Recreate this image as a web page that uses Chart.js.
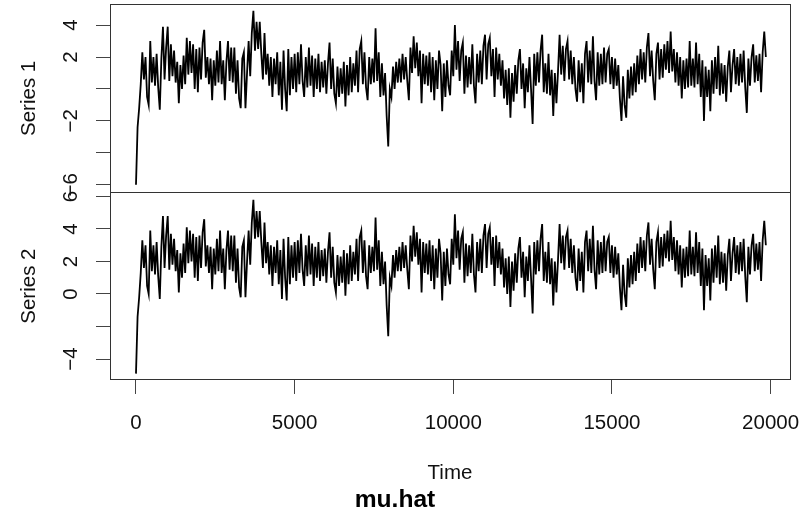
<!DOCTYPE html>
<html>
<head>
<meta charset="utf-8">
<script src="https://cdn.jsdelivr.net/npm/chart.js@4.4.1/dist/chart.umd.min.js"></script>
<style>
  html, body { margin: 0; padding: 0; background: #fff; }
  canvas { display: block; }
</style>
</head>
<body>
<canvas id="chart1" width="802" height="524"></canvas>
<script>
// time axis: one value every 50 steps, starting at 0
const tStart = 0;
const tStep = 50;

const series1 = [
  -6.0, -2.4, -1.2, 0.3, 2.3, 0.6, 2.0, -0.5, -1.0, 3.0,
  0.4, 2.0, 0.2, 2.2, 0.1, -1.3, 1.9, 3.9, 0.6, 2.6,
  3.9, 0.5, 2.8, 0.8, 2.4, 0.4, 1.7, -0.9, 1.5, 0.0,
  2.1, 0.3, 3.2, 0.9, 3.0, 1.0, 2.8, 0.0, 2.5, -0.2,
  2.6, 0.6, 2.9, 3.7, 0.7, 2.0, 0.3, 1.9, -0.7, 1.8,
  0.2, 2.4, 0.4, 3.0, 0.3, 1.8, -0.7, 1.7, 3.0, 0.5,
  2.6, 0.4, 2.6, -0.3, 1.8, -0.6, -1.2, 1.9, 2.3, -1.2,
  1.0, 3.0, 0.8, 3.5, 4.9, 2.4, 4.2, 2.5, 4.2, 2.2,
  0.6, 3.5, 0.9, 2.2, 0.2, 2.0, -0.5, 1.9, 0.3, 2.3,
  -0.4, 1.7, -1.3, 2.4, 0.0, -1.4, 2.5, -0.4, 2.0, 0.0,
  2.2, -0.2, 2.3, 0.3, 2.8, 0.5, -0.5, 2.0, 0.1, 2.6,
  0.2, 2.1, -0.5, 1.9, 0.0, 2.2, -0.2, 1.7, 0.1, 1.8,
  -0.3, 1.6, 2.9, 0.0, 1.9, -0.3, -0.9, 1.4, -0.5, 1.3,
  -0.3, 1.7, -1.1, 1.5, -0.4, 2.0, -0.2, 1.6, 0.2, 2.4,
  -0.2, 2.5, 3.0, 0.3, 2.3, 0.1, -0.7, 2.0, 0.3, 1.9,
  0.4, 3.8, 0.5, 2.3, -0.5, 1.6, -0.4, 1.0, -1.7, -3.6,
  0.0, -0.5, 1.4, 0.0, 1.7, 0.4, 1.9, 0.4, 2.2, 0.6,
  2.0, 0.5, -0.7, 2.6, 1.0, 3.3, 1.3, 2.9, 0.8, 2.4,
  -0.9, 2.2, 0.3, 2.1, 0.2, 2.3, -0.2, 2.0, -0.7, 1.8,
  0.0, 2.4, 1.5, -1.4, 1.6, -0.5, 1.8, 0.2, -0.4, 2.4,
  0.8, 4.0, 1.2, 3.0, 0.5, 2.4, 2.9, -0.3, 2.1, 0.1,
  2.0, 0.3, 2.8, 0.2, -0.9, 2.2, 0.4, 2.4, 0.3, 2.7,
  3.4, 0.6, 2.8, 3.2, 0.8, 2.5, -0.5, 2.6, 0.6, 2.2,
  0.2, 1.8, -0.6, 1.2, -1.0, 1.3, -1.8, 1.0, -0.8, 1.5,
  -0.3, 1.8, 2.5, 0.0, 1.6, -1.2, 1.3, -0.2, 2.0, 0.0,
  -2.2, 2.2, 0.2, 2.3, 0.4, 2.4, 3.4, -0.2, 1.6, -0.3,
  2.2, -0.4, 1.2, -1.7, 1.0, -0.9, 1.1, 3.4, 0.9, 2.7,
  0.5, 2.5, 3.0, 0.6, 2.4, 0.3, 2.0, 0.0, -0.8, 1.8,
  -0.2, 1.6, -0.9, 2.2, 3.0, 0.4, 2.4, 0.3, 3.3, 0.5,
  -0.7, 2.3, 0.2, 2.2, 0.3, 2.6, 0.4, 2.2, 2.5, 0.3,
  2.0, 0.0, 1.9, 0.2, 1.5, -0.6, -2.0, 0.8, -1.0, -1.8,
  1.2, -0.6, 1.4, -0.4, 1.6, -0.2, 2.1, 0.3, 2.5, 0.6,
  2.3, 0.4, 2.6, 3.5, 0.8, 2.4, 0.5, -0.7, 2.2, 2.9,
  0.6, 2.5, 0.7, 2.8, 1.2, 3.0, 1.0, 3.6, 1.1, 2.5,
  0.4, 2.3, 0.2, 2.0, -0.6, 1.8, 0.0, 1.9, 0.1, 3.0,
  0.2, 1.9, 0.1, 2.9, 0.3, 2.2, -0.5, 1.8, -2.0, 1.4,
  -0.5, 1.2, -1.4, 1.8, -0.3, 2.0, 0.0, 2.7, -0.4, 1.6,
  -0.3, 1.5, -0.8, 1.4, 2.4, -0.2, 1.5, 2.5, 0.3, 2.0,
  0.2, 2.2, 0.4, 2.4, 0.1, -1.5, 1.9, 0.2, 2.0, 2.8,
  0.4, 2.1, 0.5, 2.2, -0.2, 2.3, 3.6, 2.0,
];

const series2 = [
  -4.9, -1.4, -0.2, 1.3, 3.3, 1.6, 3.0, 0.5, 0.0, 3.9,
  1.4, 3.0, 1.2, 3.2, 1.1, -0.3, 2.9, 4.8, 1.6, 3.6,
  4.8, 1.5, 3.7, 1.8, 3.4, 1.4, 2.7, 0.1, 2.5, 1.0,
  3.1, 1.3, 4.1, 1.9, 3.9, 2.0, 3.7, 1.0, 3.5, 0.8,
  3.6, 1.6, 3.8, 4.6, 1.7, 3.0, 1.3, 2.9, 0.3, 2.8,
  1.2, 3.4, 1.4, 3.9, 1.3, 2.8, 0.3, 2.7, 3.9, 1.5,
  3.6, 1.4, 3.6, 0.7, 2.8, 0.4, -0.2, 2.9, 3.3, -0.2,
  2.0, 3.9, 1.8, 4.4, 5.8, 3.4, 5.1, 3.5, 5.1, 3.2,
  1.6, 4.4, 1.9, 3.2, 1.2, 3.0, 0.5, 2.9, 1.3, 3.3,
  0.6, 2.7, -0.3, 3.4, 1.0, -0.4, 3.5, 0.6, 3.0, 1.0,
  3.2, 0.8, 3.3, 1.3, 3.7, 1.5, 0.5, 3.0, 1.1, 3.6,
  1.2, 3.1, 0.5, 2.9, 1.0, 3.2, 0.8, 2.7, 1.1, 2.8,
  0.7, 2.6, 3.8, 1.0, 2.9, 0.7, 0.1, 2.4, 0.5, 2.3,
  0.7, 2.7, -0.1, 2.5, 0.6, 3.0, 0.8, 2.6, 1.2, 3.4,
  0.8, 3.5, 3.9, 1.3, 3.3, 1.1, 0.3, 3.0, 1.3, 2.9,
  1.4, 4.7, 1.5, 3.3, 0.5, 2.6, 0.6, 2.0, -0.7, -2.6,
  1.0, 0.5, 2.4, 1.0, 2.7, 1.4, 2.9, 1.4, 3.2, 1.6,
  3.0, 1.5, 0.3, 3.6, 2.0, 4.2, 2.3, 3.8, 1.8, 3.4,
  0.1, 3.2, 1.3, 3.1, 1.2, 3.3, 0.8, 3.0, 0.3, 2.8,
  1.0, 3.4, 2.5, -0.4, 2.6, 0.5, 2.8, 1.2, 0.6, 3.4,
  1.8, 4.9, 2.2, 3.9, 1.5, 3.4, 3.8, 0.7, 3.1, 1.1,
  3.0, 1.3, 3.7, 1.2, 0.1, 3.2, 1.4, 3.4, 1.3, 3.6,
  4.3, 1.6, 3.7, 4.1, 1.8, 3.5, 0.5, 3.6, 1.6, 3.2,
  1.2, 2.8, 0.4, 2.2, 0.0, 2.3, -0.8, 2.0, 0.2, 2.5,
  0.7, 2.8, 3.5, 1.0, 2.6, -0.2, 2.3, 0.8, 3.0, 1.0,
  -1.2, 3.2, 1.2, 3.3, 1.4, 3.4, 4.3, 0.8, 2.6, 0.7,
  3.2, 0.6, 2.2, -0.7, 2.0, 0.1, 2.1, 4.3, 1.9, 3.6,
  1.5, 3.5, 3.9, 1.6, 3.4, 1.3, 3.0, 1.0, 0.2, 2.8,
  0.8, 2.6, 0.1, 3.2, 3.9, 1.4, 3.4, 1.3, 4.2, 1.5,
  0.3, 3.3, 1.2, 3.2, 1.3, 3.6, 1.4, 3.2, 3.5, 1.3,
  3.0, 1.0, 2.9, 1.2, 2.5, 0.4, -1.0, 1.8, 0.0, -0.8,
  2.2, 0.4, 2.4, 0.6, 2.6, 0.8, 3.1, 1.3, 3.5, 1.6,
  3.3, 1.4, 3.6, 4.4, 1.8, 3.4, 1.5, 0.3, 3.2, 3.8,
  1.6, 3.5, 1.7, 3.7, 2.2, 3.9, 2.0, 4.5, 2.1, 3.5,
  1.4, 3.3, 1.2, 3.0, 0.4, 2.8, 1.0, 2.9, 1.1, 3.9,
  1.2, 2.9, 1.1, 3.8, 1.3, 3.2, 0.5, 2.8, -1.0, 2.4,
  0.5, 2.2, -0.4, 2.8, 0.7, 3.0, 1.0, 3.6, 0.6, 2.6,
  0.7, 2.5, 0.2, 2.4, 3.4, 0.8, 2.5, 3.5, 1.3, 3.0,
  1.2, 3.2, 1.4, 3.4, 1.1, -0.5, 2.9, 1.2, 3.0, 3.7,
  1.4, 3.1, 1.5, 3.2, 0.8, 3.3, 4.5, 3.0,
];

const timeTicks = [0, 5000, 10000, 15000, 20000];
const s1Ticks = [-6, -4, -2, 0, 2, 4];
const s1Shown = [4, 2, -2, -6];
const s2Ticks = [-4, -2, 0, 2, 4, 6];
const s2Shown = [6, 4, 2, 0, -4];

const fmt = (v) => (v < 0 ? "\u2212" + Math.abs(v) : String(v));
const font = { family: "'Liberation Sans', Arial, sans-serif", size: 20.5 };

function yAxis(tickList, shown, title, min, max, weight) {
  return {
    type: "linear",
    position: "left",
    stack: "panels",
    stackWeight: 1,
    weight: weight,
    min: min,
    max: max,
    afterBuildTicks: (scale) => {
      scale.ticks = tickList.map((v) => ({ value: v }));
    },
    afterFit: (scale) => {
      scale.width = 110;
      scale.paddingTop = 0;
      scale.paddingBottom = 0;
    },
    grid: { drawOnChartArea: false, tickLength: 14, color: "#444" },
    border: { display: false },
    ticks: {
      autoSkip: false,
      minRotation: 90,
      maxRotation: 90,
      crossAlign: "center",
      padding: 13,
      color: "#111",
      font: font,
      callback: (v) => (shown.includes(v) ? fmt(v) : ""),
    },
    title: { display: true, text: title, color: "#111", font: font, padding: { top: 17, bottom: 0 } },
  };
}

// box round each panel, like R's plot frame
const frame = {
  id: "frame",
  afterDatasetsDraw(chart) {
    const { ctx, chartArea, scales } = chart;
    ctx.save();
    ctx.strokeStyle = "#333";
    ctx.lineWidth = 1;
    ["y1", "y2"].forEach((id) => {
      const s = scales[id];
      const l = Math.floor(chartArea.left) + 0.5;
      const r = Math.floor(chartArea.right) + 0.5;
      const t = Math.floor(s.top) + 0.5;
      const b = Math.floor(s.bottom) + 0.5;
      ctx.strokeRect(l, t, r - l, b - t);
    });
    ctx.restore();
  },
};

var ctx = document.getElementById("chart1").getContext("2d");
var myChart = new Chart(ctx, {
  type: "line",
  data: {
    datasets: [
      {
        data: series1.map((v, i) => ({ x: tStart + i * tStep, y: v })),
        yAxisID: "y1",
        borderColor: "#000",
        borderWidth: 1.8,
        pointRadius: 0,
        tension: 0,
      },
      {
        data: series2.map((v, i) => ({ x: tStart + i * tStep, y: v })),
        yAxisID: "y2",
        borderColor: "#000",
        borderWidth: 1.8,
        pointRadius: 0,
        tension: 0,
      },
    ],
  },
  options: {
    responsive: false,
    animation: false,
    layout: { padding: { top: 4.5, right: 12, bottom: 0, left: 0 } },
    plugins: {
      legend: { display: false },
      tooltip: { enabled: false },
      title: {
        display: true,
        text: "mu.hat",
        position: "bottom",
        color: "#000",
        font: { family: font.family, size: 24.6, weight: "bold" },
        padding: { top: 0, bottom: 9 },
      },
    },
    scales: {
      x: {
        type: "linear",
        position: "bottom",
        min: -819,
        max: 20611,
        afterBuildTicks: (scale) => {
          scale.ticks = timeTicks.map((v) => ({ value: v }));
        },
        afterFit: (scale) => {
          scale.height = 105.5;
          scale.paddingLeft = 0;
          scale.paddingRight = 0;
        },
        grid: { drawOnChartArea: false, tickLength: 14, color: "#444" },
        border: { display: false },
        ticks: {
          autoSkip: false,
          maxRotation: 0,
          padding: 17,
          color: "#111",
          font: font,
          callback: (v) => String(v),
        },
        title: { display: true, text: "Time", color: "#111", font: font, padding: { top: 0, bottom: 0 } },
      },
      y1: yAxis(s1Ticks, s1Shown, "Series 1", -6.47, 5.29, 1),
      y2: yAxis(s2Ticks, s2Shown, "Series 2", -5.29, 6.26, 0),
    },
  },
  plugins: [frame],
});
</script>
</body>
</html>
